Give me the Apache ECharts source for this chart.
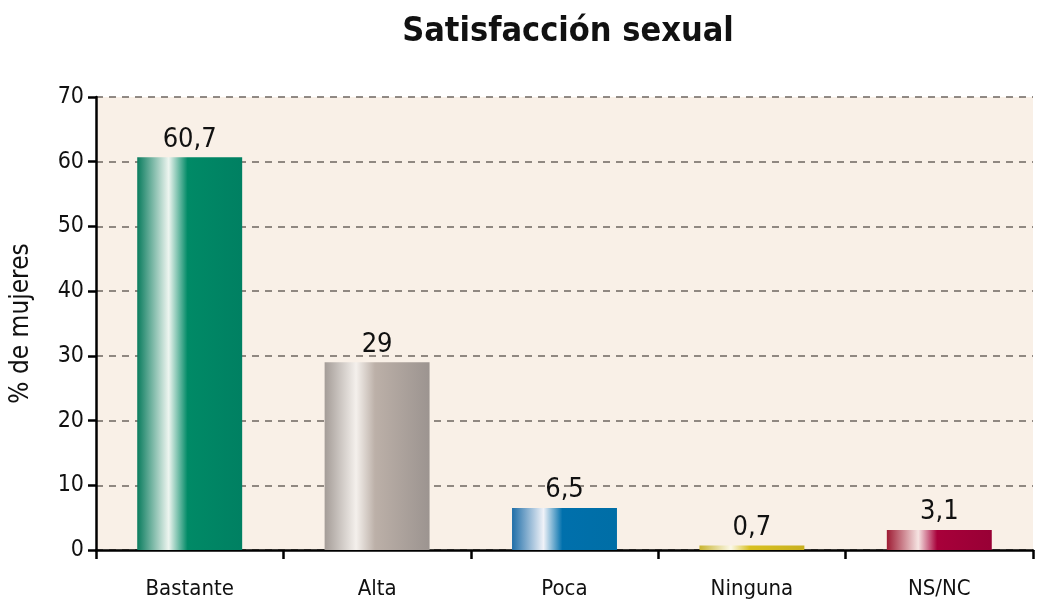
<!DOCTYPE html>
<html lang="es">
<head>
<meta charset="utf-8">
<style>
  html, body { margin: 0; padding: 0; background: #ffffff; }
  #chart { width: 1037px; height: 607px; }
</style>
</head>
<body>
<div id="chart"></div>
<script src="https://cdn.jsdelivr.net/npm/echarts@6/dist/echarts.min.js"></script>
<script>
// datos
var categorias = ['Bastante', 'Alta', 'Poca', 'Ninguna', 'NS/NC'];
var valores = [60.7, 29, 6.5, 0.7, 3.1];
var etiquetas = ['60,7', '29', '6,5', '0,7', '3,1'];

// colores de cada barra: borde, brillo, color pleno, final
var paleta = [
  ['#0a7c5e', '#eef5f0', '#008a66', '#008062'],
  ['#a49c97', '#f4f0ec', '#bcb0a8', '#9c9490'],
  ['#1f6ea8', '#f0f2f8', '#0070ac', '#006ea6'],
  ['#c8b430', '#fbf8e8', '#d8c020', '#c8b020'],
  ['#9e1c34', '#f6e4e2', '#a8003a', '#980035']
];

var fuente = '"DejaVu Sans Condensed", "Liberation Sans Narrow", "Liberation Sans", sans-serif';

var chart = echarts.init(document.getElementById('chart'));

var datos = valores.map(function (v, i) {
  var c = paleta[i];
  return {
    value: v,
    itemStyle: {
      color: new echarts.graphic.LinearGradient(0, 0, 1, 0, [
        { offset: 0, color: c[0] },
        { offset: 0.3, color: c[1] },
        { offset: 0.48, color: c[2] },
        { offset: 1, color: c[3] }
      ])
    }
  };
});

var option = {
  animation: false,
  title: {
    text: 'Satisfacción sexual',
    left: 563,
    textAlign: 'center',
    top: 10,
    textStyle: { fontFamily: fuente, fontSize: 34, fontWeight: 'bold', color: '#111' }
  },
  grid: {
    left: 96, right: 4, top: 97, bottom: 57,
    show: true, backgroundColor: '#f9f0e7', borderWidth: 0
  },
  xAxis: {
    type: 'category',
    data: categorias,
    axisLine: { lineStyle: { color: '#000', width: 2.5 } },
    axisTick: { show: true, length: 9, lineStyle: { color: '#000', width: 2.5 } },
    axisLabel: { margin: 28, fontFamily: fuente, fontSize: 22, color: '#111' }
  },
  yAxis: {
    type: 'value',
    min: 0, max: 70, interval: 10,
    name: '% de mujeres',
    nameLocation: 'middle',
    nameGap: 62,
    nameTextStyle: { fontFamily: fuente, fontSize: 26, color: '#111' },
    axisLine: { show: true, lineStyle: { color: '#000', width: 2.5 } },
    axisTick: { show: true, length: 8, lineStyle: { color: '#000', width: 2.5 } },
    axisLabel: { margin: 12, fontFamily: fuente, fontSize: 23, color: '#111' },
    splitLine: { lineStyle: { color: '#6e6660', width: 1.5, type: [7, 6] } }
  },
  series: [{
    type: 'bar',
    data: datos,
    barWidth: '56%',
    label: {
      show: true,
      position: 'top',
      distance: 4,
      fontFamily: fuente,
      fontSize: 27,
      color: '#111',
      formatter: function (p) { return etiquetas[p.dataIndex]; }
    }
  }]
};

chart.setOption(option);
</script>
</body>
</html>
